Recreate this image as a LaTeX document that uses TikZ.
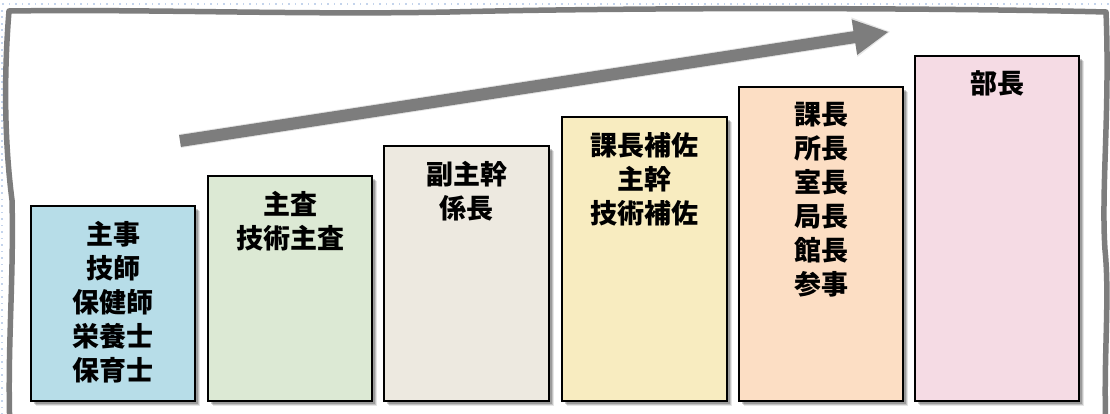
\documentclass[tikz,border=0pt]{standalone}
\usepackage{fontspec}
\newfontfamily\jp{Noto Sans CJK JP}
\usetikzlibrary{calc,shadows}
\definecolor{framegray}{RGB}{125,125,125}
\definecolor{dotblue}{RGB}{196,212,236}
\definecolor{cA}{RGB}{183,221,232}
\definecolor{cB}{RGB}{220,233,212}
\definecolor{cC}{RGB}{237,233,224}
\definecolor{cD}{RGB}{248,236,192}
\definecolor{cE}{RGB}{252,222,196}
\definecolor{cF}{RGB}{245,219,228}
\tikzset{
  rankbox/.style={draw=black, line width=2.5pt, rectangle, inner sep=0pt,
    drop shadow={shadow xshift=5pt,shadow yshift=-5pt,opacity=0.10,fill=black},
    drop shadow={shadow xshift=4pt,shadow yshift=-4pt,opacity=0.15,fill=black},
    drop shadow={shadow xshift=3pt,shadow yshift=-3pt,opacity=0.20,fill=black}},
  ranklabel/.style={inner sep=0pt, align=center, text=black,
    font=\jp\bfseries\fontsize{27}{34}\selectfont},
  shaft/.style={draw=framegray, line width=12pt},
  headfill/.style={fill=framegray},
  shadowshaft/.style={draw=black, opacity=0.10, line width=14pt},
  shadowhead/.style={fill=black, opacity=0.10},
  framestyle/.style={draw=framegray, line width=5.5pt, line join=round}
}
\newcommand\rankbox[7]{%
  \node[rankbox, fill=#6, minimum width={#4-#2}, minimum height={#5-#3}]
    (#1) at ({(#2+#4)/2},{(#3+#5)/2}) {};
  \node[ranklabel, anchor=north] (#1t) at ([yshift=-16pt]#1.north) {#7};}
\begin{document}
\begin{tikzpicture}[x=1pt,y=-1pt]
\useasboundingbox (0,0) rectangle (1110,414);
\clip (0,0) rectangle (1110,414);
\fill[white] (0,0) rectangle (1110,414);
% dotted background outside frame
\foreach \x in {2,8.5,...,1110} \fill[dotblue] (\x,3) rectangle ++(1.6,1.6);
\foreach \y in {10,16.5,...,414} \fill[dotblue] (1.2,\y) rectangle ++(1.6,1.6);
% frame
\fill[white] (9,11) .. controls (5,60) and (3,130) .. (12,200)
  .. controls (14,280) and (7,350) .. (10,430) -- (1106,430)
  .. controls (1103,360) and (1110,300) .. (1105,250)
  .. controls (1101,190) and (1110,110) .. (1106,12)
  .. controls (950,8) and (650,7) .. (450,12)
  .. controls (300,15) and (150,9) .. (9,11) -- cycle;
\draw[framestyle] (10,430) .. controls (7,350) and (14,280) .. (12,200)
  .. controls (3,130) and (5,60) .. (9,11)
  .. controls (150,9) and (300,15) .. (450,12)
  .. controls (650,7) and (950,8) .. (1106,12)
  .. controls (1110,110) and (1101,190) .. (1105,250)
  .. controls (1110,300) and (1103,360) .. (1106,430);
% arrow
\coordinate (as) at (180,141);
\coordinate (ae) at (888,32);
\coordinate (hb) at ($(ae)!34pt!(as)$);
\coordinate (h1) at ($(hb)!18pt!90:(ae)$);
\coordinate (h2) at ($(hb)!18pt!-90:(ae)$);
% shadow
\begin{scope}[shift={(3,7)}]
  \coordinate (ss) at (as);
  \draw[shadowshaft] (as) -- ($(hb)!2pt!(ae)$);
  \fill[shadowhead] ($(h1)!-2pt!(h2)$) -- ($(ae)!-2pt!(hb)$) -- ($(h2)!-2pt!(h1)$) -- cycle;
\end{scope}
\draw[shaft] (as) -- ($(hb)!1pt!(ae)$);
\fill[headfill] (h1) -- (ae) -- (h2) -- cycle;
% boxes
\rankbox{b1}{31}{206}{195}{401}{cA}{主事\\技師\\保健師\\栄養士\\保育士}
\rankbox{b2}{208}{176}{372}{401}{cB}{主査\\技術主査}
\rankbox{b3}{384}{146}{549}{401}{cC}{副主幹\\係長}
\rankbox{b4}{562}{117}{727}{401}{cD}{課長補佐\\主幹\\技術補佐}
\rankbox{b5}{739}{87}{903}{401}{cE}{課長\\所長\\室長\\局長\\館長\\参事}
\rankbox{b6}{915}{56}{1079}{401}{cF}{部長}
\end{tikzpicture}
\end{document}
